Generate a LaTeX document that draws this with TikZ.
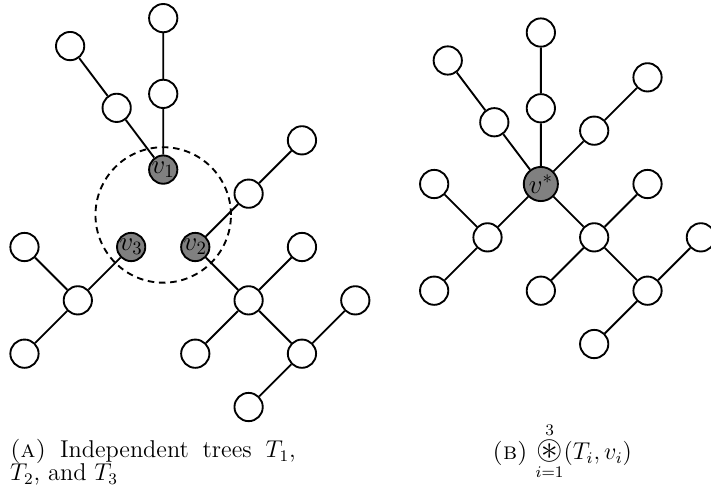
\documentclass[tikz,border=0pt]{standalone}
\usepackage{amsmath}
\usepackage{amssymb}
\newcommand{\bigcast}{\mathop{\scalebox{1.4}{$\circledast$}}\limits}
\tikzset{
    vtx/.style={circle,draw,fill=white,inner sep=0pt,minimum size=0.53cm,font=\Large},
    joint/.style={vtx,fill=gray},
    captext/.style={inner sep=0pt,font=\fontsize{12}{11.5}\selectfont,scale=1.08,transform shape}
}

\begin{document}
\begin{tikzpicture}[line width=1pt]
                    \useasboundingbox(0,0)rectangle(13.33,-9.3);
                    % (a) three separate trees
                    \coordinate(cc)at(3.06,-4.03);
                    \node[joint](v1)at([shift={(90:0.85)}]cc){$v_1$};
                    \node[joint](v2)at([shift={(-45:0.85)}]cc){$v_2$};
                    \node[joint](v3)at([shift={(225:0.85)}]cc){$v_3$};
                    \draw[dash pattern=on 3.5pt off 2.5pt](cc)circle(1.27);
                    % T1
                    \node[vtx](a1)at([shift={(0,1.42)}]v1){};
                    \node[vtx](a2)at([shift={(0,1.42)}]a1){};
                    \node[vtx](a3)at([shift={(127:1.45)}]v1){};
                    \node[vtx](a4)at([shift={(127:1.45)}]a3){};
                    \draw(v1)--(a1)--(a2) (v1)--(a3)--(a4);
                    % T2
                    \node[vtx](b1)at([shift={(1,1)}]v2){};
                    \node[vtx](b2)at([shift={(1,1)}]b1){};
                    \node[vtx](b3)at([shift={(1,-1)}]v2){};
                    \node[vtx](b4)at([shift={(1,1)}]b3){};
                    \node[vtx](b5)at([shift={(-1,-1)}]b3){};
                    \node[vtx](b6)at([shift={(1,-1)}]b3){};
                    \node[vtx](b7)at([shift={(1,1)}]b6){};
                    \node[vtx](b8)at([shift={(-1,-1)}]b6){};
                    \draw(v2)--(b1)--(b2) (v2)--(b3)--(b4) (b3)--(b5) (b3)--(b6)--(b7) (b6)--(b8);
                    % T3
                    \node[vtx](c1)at([shift={(-1,-1)}]v3){};
                    \node[vtx](c2)at([shift={(-1,1)}]c1){};
                    \node[vtx](c3)at([shift={(-1,-1)}]c1){};
                    \draw(v3)--(c1)--(c2) (c1)--(c3);
                    % (b) trees joined at v*
                    \node[joint,minimum size=0.64cm](vs)at(10.14,-3.45){$v^*$};
                    \node[vtx](p1)at([shift={(0,1.42)}]vs){};
                    \node[vtx](p2)at([shift={(0,1.42)}]p1){};
                    \node[vtx](p3)at([shift={(127:1.45)}]vs){};
                    \node[vtx](p4)at([shift={(127:1.45)}]p3){};
                    \node[vtx](q1)at([shift={(1,1)}]vs){};
                    \node[vtx](q2)at([shift={(1,1)}]q1){};
                    \node[vtx](q3)at([shift={(1,-1)}]vs){};
                    \node[vtx](q4)at([shift={(1,1)}]q3){};
                    \node[vtx](q5)at([shift={(-1,-1)}]q3){};
                    \node[vtx](q6)at([shift={(1,-1)}]q3){};
                    \node[vtx](q7)at([shift={(1,1)}]q6){};
                    \node[vtx](q8)at([shift={(-1,-1)}]q6){};
                    \node[vtx](r1)at([shift={(-1,-1)}]vs){};
                    \node[vtx](r2)at([shift={(-1,1)}]r1){};
                    \node[vtx](r3)at([shift={(-1,-1)}]r1){};
                    \draw(vs)--(p1)--(p2) (vs)--(p3)--(p4);
                    \draw(vs)--(q1)--(q2) (vs)--(q3)--(q4) (q3)--(q5) (q3)--(q6)--(q7) (q6)--(q8);
                    \draw(vs)--(r1)--(r2) (r1)--(r3);
                    % captions
                    \node[captext,anchor=base west,text width=4.96cm,align=justify](capa)at(0.17,-8.58)
                        {\textsc{(a)} Independent trees $T_1$,\linebreak $T_2$, and $T_3$};
                    \node[captext,anchor=base](capb)at(10.54,-8.62)
                        {\textsc{(b)} $\bigcast_{i=1}^{3}(T_i,v_i)$};
                \end{tikzpicture}
\end{document}
